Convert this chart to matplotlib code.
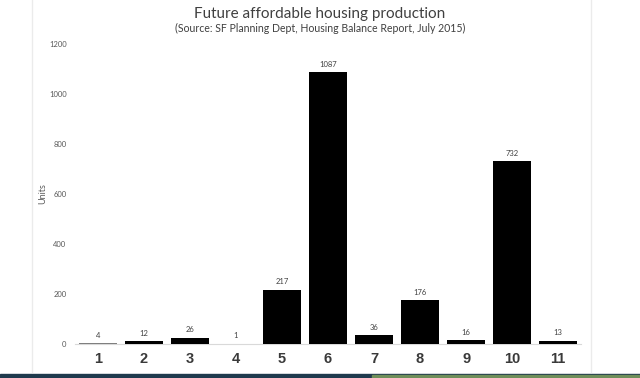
import matplotlib.pyplot as plt
from matplotlib.patches import Rectangle
from matplotlib.lines import Line2D

districts = ["1", "2", "3", "4", "5", "6", "7", "8", "9", "10", "11"]
units = [4, 12, 26, 1, 217, 1087, 36, 176, 16, 732, 13]
bar_colors = ["#7f7f7f", "black", "black", "#c8c8c8", "black", "black",
              "black", "black", "black", "black", "black"]
yticks = [0, 200, 400, 600, 800, 1000, 1200]

plt.rcParams["font.family"] = ["Lato", "DejaVu Sans"]

fig = plt.figure(figsize=(6.4, 3.78), dpi=100)
ax = fig.add_axes([0.117, 0.0899, 0.791, 0.7937])

pos = list(range(1, len(districts) + 1))
ax.bar(pos, units, width=0.84, color=bar_colors, zorder=3)
for p, v in zip(pos, units):
    ax.text(p, v + 18, str(v), ha="center", va="bottom", fontsize=5.5, color="#404040")

ax.set_xlim(0.5, 11.5)
ax.set_ylim(0, 1200)
ax.set_yticks(yticks)
ax.set_yticklabels([str(t) for t in yticks], fontsize=5.5, color="#595959")
ax.set_xticks(pos)
ax.set_xticklabels(districts, fontsize=10.5, fontweight="heavy", color="#3a3a3a",
                   family="Liberation Sans")
ax.tick_params(axis="both", length=0)
ax.tick_params(axis="y", pad=6)
ax.tick_params(axis="x", pad=6)
for s in ["top", "right", "left"]:
    ax.spines[s].set_visible(False)
ax.spines["bottom"].set_color("#d9d9d9")
ax.set_ylabel("Units", fontsize=6.5, color="#595959", labelpad=1)

fig.text(0.5, 0.962, "Future affordable housing production", ha="center", va="center",
         fontsize=11, color="#404040")
fig.text(0.5, 0.924, "(Source: SF Planning Dept, Housing Balance Report, July 2015)",
         ha="center", va="center", fontsize=7.6, color="#404040")

# faint chart-area borders and bottom strip of the screenshot
fig.add_artist(Line2D([0.05, 0.05], [0.016, 1], color="#ebebeb", lw=1))
fig.add_artist(Line2D([0.923, 0.923], [0.016, 1], color="#ebebeb", lw=1))
fig.add_artist(Rectangle((0, 0), 1, 0.01, color="#1f3a4d"))
fig.add_artist(Rectangle((0.582, 0), 0.418, 0.009, color="#6f8f5a"))

fig.savefig("out.png", dpi=100)
